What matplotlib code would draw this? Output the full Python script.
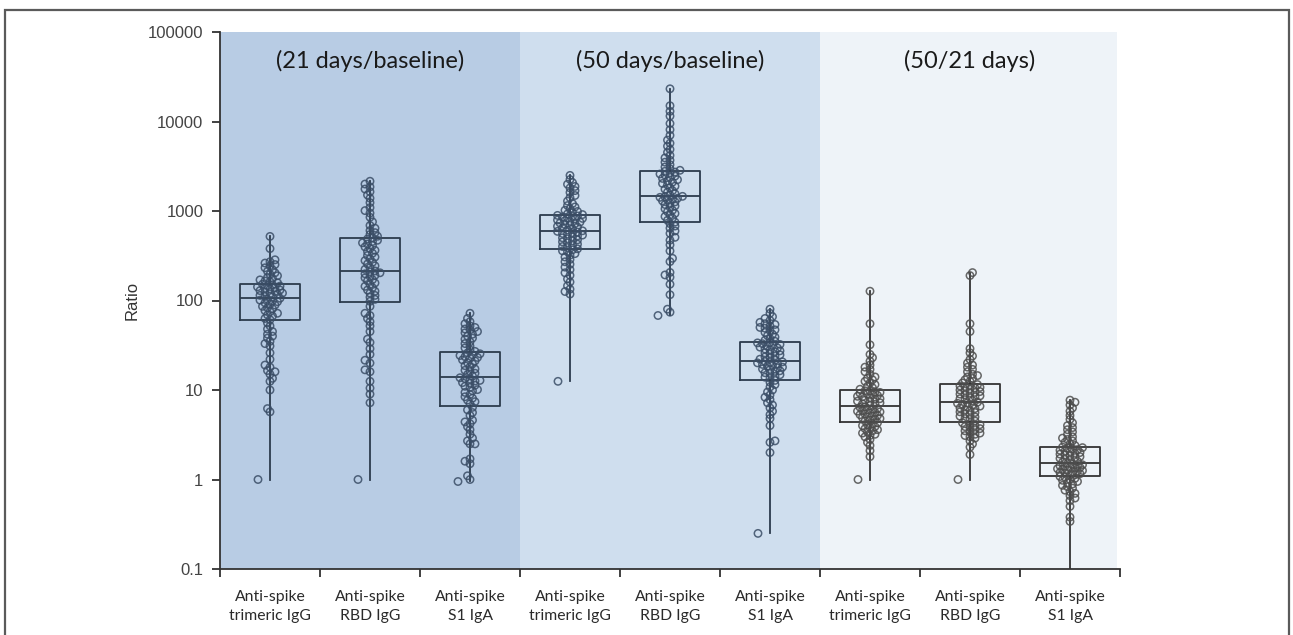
import matplotlib.pyplot as plt
import numpy as np
from matplotlib.patches import Rectangle
from matplotlib.transforms import blended_transform_factory

# ---- data ----
categories = ["Anti-spike\ntrimeric IgG", "Anti-spike\nRBD IgG", "Anti-spike\nS1 IgA"] * 3
panel_titles = ["(21 days/baseline)", "(50 days/baseline)", "(50/21 days)"]
panel_colors = ["#b8cce4", "#cfdeee", "#eef3f8"]

q1s = [60, 95, 6.7, 372, 763, 13.1, 4.4, 4.4, 1.1]
medians = [108, 216, 13.9, 605, 1465, 21, 6.6, 7.4, 1.53]
q3s = [154, 493, 26.4, 897, 2790, 34.2, 9.9, 11.6, 2.32]
mins = [1.0, 1.0, 0.95, 12.5, 68, 0.25, 1.0, 1.0, 0.08]
maxs = [520, 2150, 72, 2500, 23200, 80, 127, 205, 7.7]

trim_21 = [5.7, 6.2, 10, 12.5, 13.5, 15, 16, 16.5, 18, 19, 22, 26, 31, 33, 35, 38, 40, 42, 45, 48, 52, 56,
           61, 63, 67, 69, 72, 75, 77, 81, 83, 86, 89, 91, 94, 97, 99, 101, 103, 106,
           110, 111, 114, 117, 119, 121, 124, 126, 129, 131, 134, 137, 139, 142, 145, 147, 150, 152,
           158, 162, 165, 170, 176, 181, 189, 196, 204, 212, 221, 232, 244, 252, 262, 271, 285, 380, 520]
rbd_21 = [7.2, 9.0, 10.5, 12.5, 16, 16.8, 20, 21.5, 25, 29, 34, 37, 45, 52, 58, 63, 68, 72, 86,
          98, 103, 109, 114, 121, 127, 131, 139, 144, 151, 157, 166, 171, 179, 186, 191, 199, 204, 209, 214,
          223, 233, 244, 256, 267, 279, 292, 306, 318, 337, 352, 364, 381, 397, 412, 428, 441, 456, 471, 487,
          503, 522, 546, 573, 605, 642, 690, 757, 851, 948, 1010, 1090, 1240, 1390, 1510, 1640, 1760, 1860, 2000, 2150]
s1_21 = [1.0, 1.1, 1.5, 1.6, 1.7, 2.5, 2.5, 2.7, 2.9, 3.2, 3.6, 3.9, 4.2, 4.4, 4.6, 5.2, 5.6, 6.0, 6.4,
         7.0, 7.4, 7.7, 8.1, 8.4, 8.9, 9.4, 9.8, 10.1, 10.7, 11.0, 11.3, 11.9, 12.1, 12.6, 12.8, 13.2, 13.4, 13.7,
         14.3, 14.9, 15.4, 16.1, 16.6, 17.2, 18.1, 18.7, 19.6, 20.2, 21.1, 21.7, 22.6, 23.1, 23.6, 24.3, 24.7, 25.4, 25.9,
         27, 28, 29.5, 31, 33, 34.5, 37, 38, 40, 42, 43.5, 45, 47, 48, 50, 52, 55, 58, 63, 72]
trim_50 = [118, 126, 134, 146, 161, 174, 191, 204, 221, 236, 254, 271, 288, 306, 321, 334, 351, 359, 368,
           378, 391, 401, 413, 426, 441, 452, 463, 476, 489, 502, 514, 526, 538, 551, 561, 572, 581, 592, 601,
           614, 631, 644, 661, 674, 692, 703, 721, 733, 752, 764, 781, 793, 811, 826, 838, 856, 868, 881, 893,
           912, 928, 962, 988, 1020, 1060, 1110, 1150, 1210, 1290, 1410, 1490, 1610, 1690, 1810, 1880, 1990, 2080, 2250, 2500]
rbd_50 = [74, 80, 116, 152, 182, 193, 206, 272, 296, 358, 418, 472, 508, 562, 598, 643, 679, 722, 751,
          788, 832, 868, 903, 938, 982, 1020, 1058, 1104, 1138, 1182, 1218, 1263, 1298, 1332, 1361, 1388, 1421, 1442, 1458,
          1502, 1558, 1623, 1688, 1752, 1818, 1893, 1958, 2032, 2098, 2172, 2238, 2312, 2378, 2452, 2518, 2592, 2648, 2722, 2778,
          2850, 2960, 3100, 3290, 3510, 3690, 3920, 4180, 4520, 4880, 5300, 5720, 6200, 7000, 8100, 9500, 11500, 13000, 15000, 23200]
s1_50 = [2.0, 2.6, 2.7, 4.0, 4.8, 5.3, 5.8, 6.3, 6.8, 7.2, 7.8, 8.3, 8.8, 9.5, 10.0, 10.8, 11.5, 12.2, 12.8,
         13.5, 13.9, 14.2, 14.8, 15.3, 15.6, 16.1, 16.4, 16.9, 17.2, 17.7, 18.0, 18.5, 18.8, 19.3, 19.6, 20.1, 20.3, 20.6, 20.9,
         21.6, 22.1, 22.9, 23.4, 24.1, 24.7, 25.4, 26.0, 26.8, 27.4, 28.1, 28.7, 29.5, 30.1, 30.9, 31.5, 32.3, 32.9, 33.6, 34.0,
         35, 36, 37.5, 39, 40.5, 42, 44, 46, 47, 49, 50, 52, 54, 55, 57, 60, 63, 66, 72, 80]
trim_ratio = [1.8, 2.1, 2.4, 2.6, 2.8, 3.0, 3.1, 3.2, 3.3, 3.4, 3.5, 3.6, 3.7, 3.8, 3.9, 4.0, 4.1, 4.2, 4.3,
              4.5, 4.6, 4.7, 4.8, 4.9, 5.0, 5.1, 5.2, 5.3, 5.4, 5.5, 5.6, 5.7, 5.8, 5.9, 6.0, 6.1, 6.2, 6.4, 6.5,
              6.7, 6.9, 7.0, 7.2, 7.4, 7.5, 7.7, 7.9, 8.0, 8.2, 8.4, 8.5, 8.7, 8.9, 9.0, 9.2, 9.4, 9.5, 9.7, 9.8,
              10.2, 10.6, 11.0, 11.5, 12, 12.5, 13, 13.5, 14, 15, 16, 17, 18, 19, 21, 23, 25, 32, 55, 127]
rbd_ratio = [1.9, 2.3, 2.5, 2.7, 2.9, 3.0, 3.1, 3.2, 3.3, 3.4, 3.5, 3.6, 3.7, 3.8, 3.9, 4.0, 4.1, 4.2, 4.3,
             4.5, 4.7, 4.8, 5.0, 5.1, 5.3, 5.4, 5.6, 5.7, 5.9, 6.0, 6.2, 6.3, 6.5, 6.6, 6.8, 6.9, 7.1, 7.2, 7.3,
             7.6, 7.8, 8.0, 8.2, 8.4, 8.6, 8.8, 9.0, 9.2, 9.4, 9.6, 9.8, 10.0, 10.2, 10.5, 10.7, 10.9, 11.1, 11.3, 11.5,
             12, 12.5, 13, 13.5, 14, 14.5, 15, 16, 17, 18, 19, 20, 22, 24, 26, 29, 45, 55, 190, 205]
s1_ratio = [0.34, 0.38, 0.5, 0.58, 0.62, 0.66, 0.7, 0.73, 0.76, 0.8, 0.83, 0.86, 0.89, 0.92, 0.95, 0.98, 1.0, 1.03, 1.06, 1.08,
            1.12, 1.14, 1.16, 1.18, 1.2, 1.22, 1.24, 1.26, 1.28, 1.3, 1.32, 1.34, 1.36, 1.38, 1.4, 1.42, 1.44, 1.46, 1.49, 1.51,
            1.56, 1.6, 1.64, 1.68, 1.72, 1.76, 1.8, 1.84, 1.88, 1.92, 1.96, 2.0, 2.04, 2.08, 2.12, 2.16, 2.2, 2.24, 2.27, 2.3,
            2.4, 2.5, 2.6, 2.7, 2.8, 2.9, 3.0, 3.2, 3.4, 3.6, 3.8, 4.0, 4.3, 4.7, 5.2, 5.8, 6.3, 6.8, 7.3, 7.7]

groups = [trim_21, rbd_21, s1_21, trim_50, rbd_50, s1_50, trim_ratio, rbd_ratio, s1_ratio]


def swarm_offsets(vals, spacing=3.8, step=2.5, max_off=12.5):
    # small beeswarm in pixel space (100 px per category, ~89.5 px per decade)
    ys = np.log10(np.asarray(vals, dtype=float)) * 89.5
    cands = [0.0]
    for k in range(1, int(max_off / step) + 1):
        cands += [k * step, -k * step]
    offs = np.zeros(len(ys))
    placed = []
    for n, i in enumerate(np.argsort(ys)):
        sign = 1 if n % 2 == 0 else -1
        best, best_d = 0.0, -1.0
        for c in cands:
            c = c * sign
            d = min([np.hypot(c - px, ys[i] - py) for px, py in placed], default=99.0)
            if d >= spacing:
                best = c
                break
            if d > best_d:
                best, best_d = c, d
        offs[i] = best
        placed.append((best, ys[i]))
    return offs / 100.0


fig = plt.figure(figsize=(12.93, 6.35), dpi=100)
ax = fig.add_axes([220 / 1293, 1 - 569 / 635, 900 / 1293, 537 / 635])

fig.add_artist(Rectangle((5 / 1293, -0.05), 1284 / 1293, 1.05 - 10 / 635, transform=fig.transFigure,
                         fill=False, edgecolor="#5a5a5a", linewidth=1.6))

# panel backgrounds and titles
trans = blended_transform_factory(ax.transData, ax.transAxes)
for p in range(3):
    left = p * 3 - 0.5
    right = left + 3 if p < 2 else left + 2.97
    ax.axvspan(left, right, color=panel_colors[p], zorder=0, lw=0)
    ax.text(p * 3 + 1, 0.946, panel_titles[p], transform=trans, ha="center", va="center",
            fontsize=17, family="Lato", color="#1a1a1a")

# boxes
stats = []
for i in range(9):
    stats.append({"med": medians[i], "q1": q1s[i], "q3": q3s[i],
                  "whislo": mins[i], "whishi": maxs[i], "fliers": []})
for i in range(9):
    col = "#2c3b4d" if i < 6 else "#333333"
    props = dict(color=col, linewidth=1.3)
    ax.bxp([stats[i]], positions=[i], widths=0.6, showcaps=False, showfliers=False,
           boxprops=props, medianprops=props, whiskerprops=props, zorder=3)

# points
for i, vals in enumerate(groups):
    col = "#3a4d66" if i < 6 else "#4d4d4d"
    offs = swarm_offsets(vals)
    ax.scatter(i + offs, vals, s=28, facecolors="none", edgecolors=col, linewidths=1.1, alpha=0.85, zorder=4)
    ax.scatter([i - 0.12], [mins[i]], s=28, facecolors="none", edgecolors=col, linewidths=1.1,
               alpha=0.85, zorder=4, clip_on=True)

ax.set_yscale("log")
ax.set_ylim(0.1, 100000)
ax.set_xlim(-0.5, 8.5)
yt = [0.1, 1, 10, 100, 1000, 10000, 100000]
ax.set_yticks(yt)
ax.set_yticklabels(["0.1", "1", "10", "100", "1000", "10000", "100000"], family="Liberation Sans",
                   fontsize=12, color="#444444")
ax.yaxis.set_minor_locator(plt.NullLocator())
ax.set_ylabel("Ratio", fontsize=12, family="Liberation Sans", color="#333333", labelpad=6)

ax.set_xticks(np.arange(-0.5, 9, 1))
ax.set_xticklabels([])
ax.set_xticks(np.arange(9), minor=True)
ax.set_xticklabels(categories, minor=True, family="Lato", fontsize=11.3, color="#2a2a2a", linespacing=1.5)
ax.tick_params(axis="x", which="minor", length=0, pad=15)
ax.tick_params(axis="x", which="major", length=6, width=1.3, color="#333333")
ax.tick_params(axis="y", which="major", length=6, width=1.3, color="#333333", pad=6)

for s in ["top", "right"]:
    ax.spines[s].set_visible(False)
for s in ["left", "bottom"]:
    ax.spines[s].set_color("#333333")
    ax.spines[s].set_linewidth(1.3)

fig.savefig("out.png", dpi=100)
